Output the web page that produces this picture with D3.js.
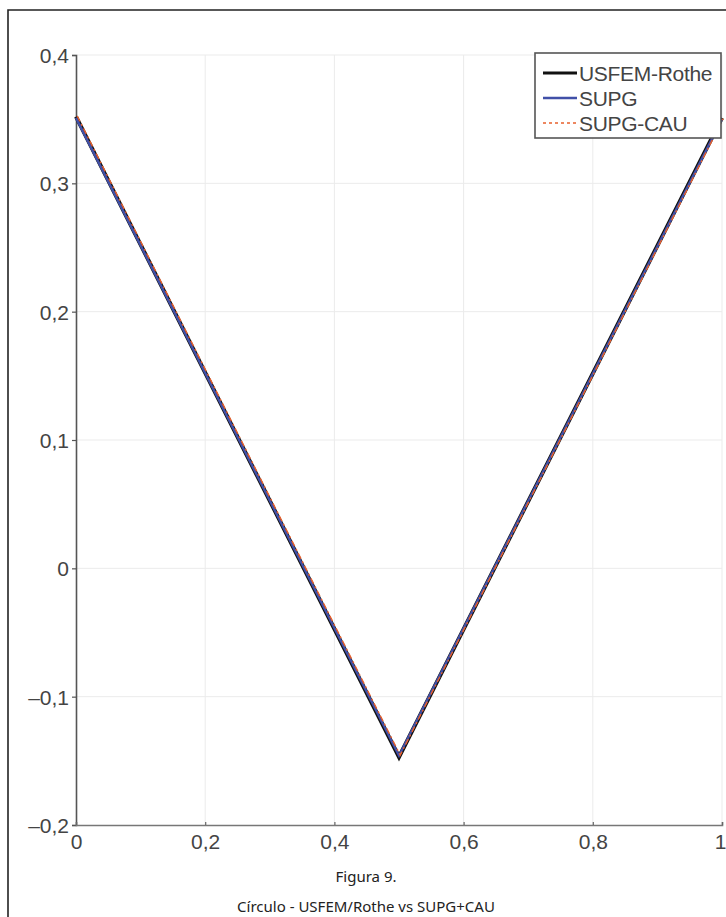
<!DOCTYPE html>
<html><head><meta charset="utf-8">
<script src="https://cdn.jsdelivr.net/npm/d3@7"></script>
<style>
html,body{margin:0;padding:0;background:#fff;}
svg{display:block;}
</style></head>
<body>
<svg id="c" width="726" height="917"></svg>
<script>
// Data
const xValues = [0, 0.5, 1];
const usfemRothe = [0.352, -0.147, 0.351];
const supg = [0.351, -0.146, 0.350];
const supgCau = [0.352, -0.146, 0.350];
const seriesNames = ["USFEM-Rothe", "SUPG", "SUPG-CAU"];
const xTicks = [0, 0.2, 0.4, 0.6, 0.8, 1];
const xTickLabels = ["0", "0,2", "0,4", "0,6", "0,8", "1"];
const yTicks = [0.4, 0.3, 0.2, 0.1, 0, -0.1, -0.2];
const yTickLabels = ["0,4", "0,3", "0,2", "0,1", "0", "\u20130,1", "\u20130,2"];
const captionLines = ["Figura 9.", "Círculo - USFEM/Rothe vs SUPG+CAU"];

(function () {
const svg = d3.select("#c");
const W = 726, H = 917;
const pL = 76, pR = 722, pT = 55, pB = 825;
const x = d3.scaleLinear().domain([0, 1]).range([pL, pR]);
const y = d3.scaleLinear().domain([-0.2, 0.4]).range([pB, pT]);

// frame
svg.append("path")
  .attr("d", `M8,${H+2} V10 H${W+2}`)
  .attr("fill", "none").attr("stroke", "#222").attr("stroke-width", 1.6);

// grid
const g = svg.append("g");
g.selectAll(".vg").data(xTicks.slice(1)).join("line")
  .attr("x1", d => x(d)).attr("x2", d => x(d))
  .attr("y1", pT).attr("y2", pB)
  .attr("stroke", "#ebebeb").attr("stroke-width", 1);
g.selectAll(".hg").data(yTicks.slice(0, -1)).join("line")
  .attr("x1", pL).attr("x2", pR)
  .attr("y1", d => y(d)).attr("y2", d => y(d))
  .attr("stroke", "#ebebeb").attr("stroke-width", 1);

// axes
const font = "'Liberation Sans', Arial, Helvetica, sans-serif";
const yAxis = d3.axisLeft(y).tickValues(yTicks)
  .tickFormat((d, i) => yTickLabels[i]).tickSize(4).tickPadding(3);
const ya = svg.append("g").attr("transform", `translate(${pL},0)`).call(yAxis);
ya.select(".domain").attr("stroke", "#555").attr("stroke-width", 1.6);
ya.selectAll(".tick line").attr("stroke", "#555").attr("stroke-width", 1.2);
ya.selectAll(".tick text").attr("font-family", font).attr("font-size", 21)
  .attr("fill", "#444").attr("dy", "0.36em");

const xAxis = d3.axisBottom(x).tickValues(xTicks)
  .tickFormat((d, i) => xTickLabels[i]).tickSize(-3).tickPadding(9);
const xa = svg.append("g").attr("transform", `translate(0,${pB})`).call(xAxis);
xa.select(".domain").attr("stroke", "#777").attr("stroke-width", 1.6);
xa.selectAll(".tick line").attr("stroke", "#666").attr("stroke-width", 1.2);
xa.selectAll(".tick text").attr("font-family", font).attr("font-size", 21)
  .attr("fill", "#444");
xa.selectAll(".tick text").filter(d => d === 1)
  .attr("text-anchor", "end").attr("dx", 4);

// lines
const line = d3.line().x(d => x(d[0])).y(d => y(d[1]));
const mk = arr => xValues.map((v, i) => [v, arr[i]]);
svg.append("path").datum(mk(usfemRothe)).attr("d", line)
  .attr("fill", "none").attr("stroke", "#111").attr("stroke-width", 4)
  .attr("stroke-linejoin", "miter");
svg.append("path").datum(mk(supg)).attr("d", line)
  .attr("fill", "none").attr("stroke", "#4150a8").attr("stroke-width", 2.4);
svg.append("path").datum(mk(supgCau)).attr("d", line)
  .attr("transform", "translate(1.2,-0.6)")
  .attr("fill", "none").attr("stroke", "#e8602c").attr("stroke-width", 1.4)
  .attr("stroke-dasharray", "6,3,2,3");

// legend
const lg = svg.append("g");
lg.append("rect").attr("x", 535).attr("y", 53).attr("width", 186).attr("height", 85)
  .attr("fill", "#fff").attr("stroke", "#555").attr("stroke-width", 1.6);
const colors = ["#111", "#4150a8", "#e8602c"];
const widths = [3, 2.4, 1.6];
const dashes = [null, null, "3,3"];
seriesNames.forEach((n, i) => {
  const yy = 73 + i * 25;
  lg.append("line").attr("x1", 543).attr("x2", 577).attr("y1", yy).attr("y2", yy)
    .attr("stroke", colors[i]).attr("stroke-width", widths[i])
    .attr("stroke-dasharray", dashes[i]);
  lg.append("text").attr("x", 579).attr("y", yy).attr("dy", "0.36em")
    .attr("font-family", font).attr("font-size", 21).attr("fill", "#444")
    .attr("letter-spacing", -0.3).text(n);
});

// caption
svg.selectAll(".cap").data(captionLines).join("text")
  .attr("x", 366).attr("y", (d, i) => 882 + i * 30)
  .attr("text-anchor", "middle")
  .attr("font-family", "'Noto Sans', 'Open Sans', sans-serif")
  .attr("font-size", 15).attr("fill", "#222").text(d => d);
})();
</script>
</body></html>
